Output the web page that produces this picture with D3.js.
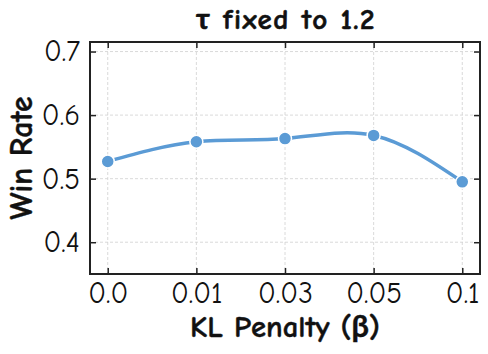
<!DOCTYPE html>
<html>
<head>
<meta charset="utf-8">
<script src="https://cdn.jsdelivr.net/npm/d3@7"></script>
<style>
  body { margin: 0; background: #fff; }
  svg { display: block; font-family: "Comic Sans MS", "Comic Neue", Lato, sans-serif; }
</style>
</head>
<body>
<script>
// data
var betaLabels = ['0.0', '0.01', '0.03', '0.05', '0.1'];
var winRate = [0.527, 0.558, 0.563, 0.568, 0.495];
var yTicks = [0.4, 0.5, 0.6, 0.7];

(function () {
    var width = 488, height = 354,
        margin = { top: 42, right: 8, bottom: 80, left: 90 },
        innerW = width - margin.left - margin.right,
        innerH = height - margin.top - margin.bottom,
        lineColor = '#5b9bd5',
        axisColor = '#222',
        fontFamily = '"Comic Sans MS", "Comic Neue", Lato, sans-serif';

    var svg = d3.select('body').append('svg')
        .attr('width', width)
        .attr('height', height);

    // scale a text's font size so it spans the given width
    function fitWidth(sel, target) {
        var size = parseFloat(sel.attr('font-size')),
            w = sel.node().getComputedTextLength();
        if (w > 0) sel.attr('font-size', (size * target / w) + 'px');
        return size * target / w;
    }

    var g = svg.append('g')
        .attr('transform', 'translate(' + margin.left + ',' + margin.top + ')');

    var x = d3.scaleLinear()
        .domain([-0.2, betaLabels.length - 1 + 0.2])
        .range([0, innerW]);

    var y = d3.scaleLinear()
        .domain([0.35, 0.715])
        .range([innerH, 0]);

    var idx = d3.range(betaLabels.length);

    // grid
    g.append('g').selectAll('line')
        .data(idx)
        .enter().append('line')
        .attr('x1', function (d) { return x(d); })
        .attr('x2', function (d) { return x(d); })
        .attr('y1', 0).attr('y2', innerH)
        .attr('stroke', '#d0d0d0').attr('stroke-width', 0.8)
        .attr('stroke-dasharray', '3,2');

    g.append('g').selectAll('line')
        .data(yTicks)
        .enter().append('line')
        .attr('x1', 0).attr('x2', innerW)
        .attr('y1', function (d) { return y(d); })
        .attr('y2', function (d) { return y(d); })
        .attr('stroke', '#d0d0d0').attr('stroke-width', 0.8)
        .attr('stroke-dasharray', '3,2');

    // axes, ticks pointing inward on all four sides
    var xAxis = d3.axisBottom(x).tickValues(idx)
        .tickFormat(function (d) { return betaLabels[d]; })
        .tickSizeInner(-6).tickSizeOuter(0).tickPadding(8);
    var xTop = d3.axisTop(x).tickValues(idx).tickFormat('')
        .tickSizeInner(-6).tickSizeOuter(0);
    var yAxis = d3.axisLeft(y).tickValues(yTicks)
        .tickFormat(d3.format('.1f'))
        .tickSizeInner(-6).tickSizeOuter(0).tickPadding(10);
    var yRight = d3.axisRight(y).tickValues(yTicks).tickFormat('')
        .tickSizeInner(-6).tickSizeOuter(0);

    var gx = g.append('g').attr('transform', 'translate(0,' + innerH + ')').call(xAxis);
    var gxt = g.append('g').call(xTop);
    var gy = g.append('g').call(yAxis);
    var gyr = g.append('g').attr('transform', 'translate(' + innerW + ',0)').call(yRight);

    [gx, gxt, gy, gyr].forEach(function (a) {
        a.attr('font-family', fontFamily);
        a.select('.domain').remove();
        a.selectAll('.tick line').attr('stroke', axisColor).attr('stroke-width', 1.5);
        a.selectAll('.tick text').attr('fill', '#111').attr('font-size', '26px');
    });

    // size tick labels so "0.05" is as wide as in the reference
    var probe = gx.selectAll('.tick text').filter(function (d) { return d === 3; });
    var tickSize = fitWidth(probe, 56);
    gx.selectAll('.tick text').attr('font-size', tickSize + 'px');
    gy.selectAll('.tick text').attr('font-size', tickSize + 'px');

    // frame
    g.append('rect')
        .attr('width', innerW).attr('height', innerH)
        .attr('fill', 'none')
        .attr('stroke', axisColor).attr('stroke-width', 2);

    // smooth line
    var line = d3.line()
        .x(function (d, i) { return x(i); })
        .y(function (d) { return y(d); })
        .curve(d3.curveNatural);

    g.append('path')
        .datum(winRate)
        .attr('d', line)
        .attr('fill', 'none')
        .attr('stroke', lineColor)
        .attr('stroke-width', 3.5)
        .attr('stroke-linecap', 'round');

    g.selectAll('circle')
        .data(winRate)
        .enter().append('circle')
        .attr('cx', function (d, i) { return x(i); })
        .attr('cy', function (d) { return y(d); })
        .attr('r', 6.5)
        .attr('fill', lineColor)
        .attr('stroke', '#fff')
        .attr('stroke-width', 1.5);

    // title and labels
    svg.append('text')
        .attr('x', margin.left + innerW / 2 + 1)
        .attr('y', 29)
        .attr('text-anchor', 'middle')
        .attr('font-size', '29px')
        .attr('font-weight', 'bold')
        .attr('letter-spacing', '1.5px')
        .attr('fill', '#111')
        .attr('stroke', '#111')
        .attr('stroke-width', 0.6)
        .text('τ fixed to 1.2');

    var xLabel = svg.append('text')
        .attr('x', margin.left + innerW / 2)
        .attr('y', 337)
        .attr('text-anchor', 'middle')
        .attr('font-size', '24px')
        .attr('font-weight', 'bold')
        .attr('fill', '#111')
        .attr('stroke', '#111')
        .attr('stroke-width', 0.4)
        .text('KL Penalty (β)');
    fitWidth(xLabel, 190);

    var yLabel = svg.append('text')
        .attr('transform', 'translate(32,' + (margin.top + innerH / 2) + ') rotate(-90)')
        .attr('text-anchor', 'middle')
        .attr('font-size', '24px')
        .attr('font-weight', 'bold')
        .attr('fill', '#111')
        .attr('stroke', '#111')
        .attr('stroke-width', 0.4)
        .text('Win Rate');
    fitWidth(yLabel, 123);
}());
</script>
</body>
</html>
